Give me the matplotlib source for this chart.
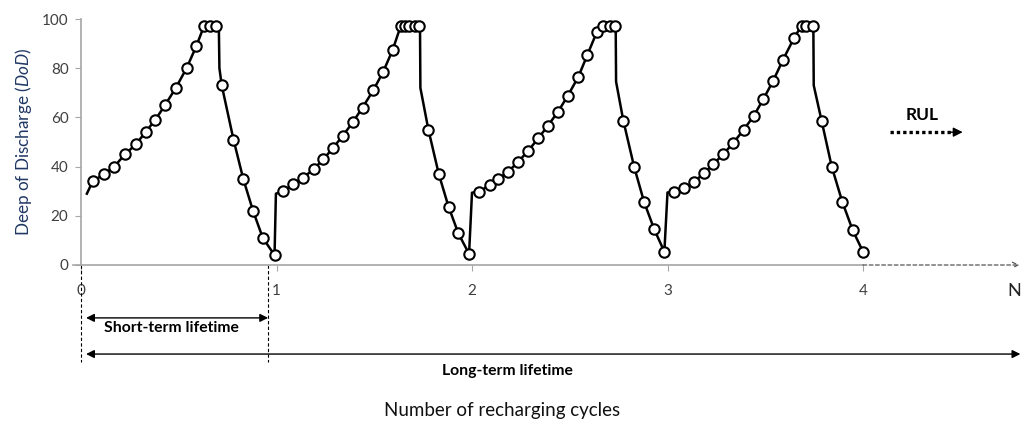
import numpy as np
from matplotlib import pyplot as plt

# marked points of each recharging cycle (cycle position, DoD %)
c1_x = [0.06, 0.12, 0.17, 0.225, 0.28, 0.33, 0.38, 0.43, 0.485, 0.54, 0.59, 0.63, 0.66, 0.69,
        0.72, 0.78, 0.83, 0.88, 0.93, 0.99]
c1_dod = [34, 37, 40, 45, 49, 54, 59, 65, 72, 80, 89, 97.3, 97.3, 97.3,
          73, 51, 35, 22, 11, 4]
c2_x = [1.035, 1.086, 1.137, 1.19, 1.24, 1.29, 1.34, 1.39, 1.44, 1.495, 1.546, 1.594,
        1.636, 1.657, 1.68, 1.708, 1.729, 1.777, 1.83, 1.88, 1.93, 1.985]
c2_dod = [30, 33, 35.5, 39, 43, 47.7, 52.6, 58, 64, 71, 78.6, 87.4,
          97.3, 97.3, 97.3, 97.3, 97.3, 55, 37, 23.7, 12.9, 4.5]
c3_x = [2.037, 2.09, 2.135, 2.186, 2.237, 2.288, 2.339, 2.387, 2.44, 2.49, 2.544, 2.59, 2.638,
        2.67, 2.705, 2.73, 2.774, 2.829, 2.88, 2.932, 2.984]
c3_dod = [29.8, 32.5, 35, 38, 42, 46.5, 51.5, 56.5, 62.3, 68.8, 76.5, 85.4, 94.6,
          97.3, 97.3, 97.3, 58.7, 40, 25.7, 14.5, 5.4]
c4_x = [3.033, 3.086, 3.137, 3.187, 3.234, 3.285, 3.337, 3.39, 3.442, 3.49, 3.54, 3.59, 3.648,
        3.686, 3.71, 3.742, 3.788, 3.84, 3.894, 3.947, 4.0]
c4_dod = [29.5, 31.2, 33.9, 37.3, 41, 45, 49.7, 55, 60.7, 67.4, 74.8, 83.3, 92.4,
          97.3, 97.3, 97.3, 58.7, 40, 25.7, 14.2, 5.4]
# unmarked corner points of the curve (start, drops after full charge, recharge jumps)
knee_x = [0.03, 0.705, 0.708, 0.997, 1.734, 1.736, 2.0, 2.735, 2.737, 3.0, 3.746, 3.748]
knee_dod = [29, 97.3, 80, 29, 97.3, 72, 29.4, 97.3, 74.5, 29.5, 97.3, 73]

xticks = [0, 1, 2, 3, 4]
yticks = [0, 20, 40, 60, 80, 100]

mark_x = np.array(c1_x + c2_x + c3_x + c4_x)
mark_dod = np.array(c1_dod + c2_dod + c3_dod + c4_dod)
line_x = np.concatenate([mark_x, knee_x])
line_dod = np.concatenate([mark_dod, knee_dod])
order = np.argsort(line_x)
line_x, line_dod = line_x[order], line_dod[order]

plt.rcParams['font.family'] = ['Lato', 'DejaVu Sans']
plt.rcParams['mathtext.fontset'] = 'custom'
plt.rcParams['mathtext.it'] = 'Lato:italic'
plt.rcParams['mathtext.rm'] = 'Lato'

fig = plt.figure(figsize=(10.23, 4.23), dpi=100)
ax = fig.add_axes([81 / 1023, (423 - 265) / 423, (1023 - 81) / 1023, 246 / 423])

ax.plot(line_x, line_dod, color='black', lw=1.8, zorder=2)
ax.plot(mark_x, mark_dod, 'o', ms=7.5, mfc='white', mec='black', mew=1.5, zorder=3)

ax.set_xlim(0, (1023 - 81) / 195.5)
ax.set_ylim(0, 100)
for s in ['top', 'right']:
    ax.spines[s].set_visible(False)
for s in ['left', 'bottom']:
    ax.spines[s].set_color('#a6a6a6')
    ax.spines[s].set_linewidth(1.2)
ax.spines['bottom'].set_bounds(-0.04, 4)
ax.set_xticks(xticks)
ax.set_yticks(yticks)
ax.tick_params(axis='both', colors='#a6a6a6', labelcolor='#404040', labelsize=11, length=4)
ax.tick_params(axis='x', pad=10)
ax.tick_params(axis='y', pad=5)

ax.set_ylabel('Deep of Discharge ($\\it{DoD}$)', color='#203864', fontsize=12.3, labelpad=6)
fig.text(502 / 1023, (423 - 410) / 423, 'Number of recharging cycles', ha='center', va='center',
         fontsize=13.5, color='#111111')

# x axis continuation
ax.annotate('', xy=(4.8, 0), xytext=(4.0, 0), annotation_clip=False,
            arrowprops=dict(arrowstyle='->', color='#555555', lw=0.9, linestyle=(0, (3, 2)),
                            shrinkA=0, shrinkB=0))
ax.text(4.81, -10.5, 'N', fontsize=13, ha='right', va='center', color='#222222', clip_on=False)

# RUL arrow
ax.text(4.30, 61, 'RUL', fontsize=12.5, fontweight='bold', ha='center', va='center')
ax.plot([4.14, 4.45], [54, 54], color='black', lw=2.4, ls=(0, (1, 0.9)),
        solid_capstyle='butt', dash_capstyle='butt')
ax.annotate('', xy=(4.51, 54), xytext=(4.44, 54),
            arrowprops=dict(arrowstyle='-|>', color='black', lw=1, mutation_scale=14,
                            shrinkA=0, shrinkB=0))

# lifetime spans
for xv in [0, 0.957]:
    ax.plot([xv, xv], [0, -39.5], color='black', lw=0.8, ls=(0, (3, 2)), clip_on=False)
ax.annotate('', xy=(0.957, -21.5), xytext=(0.026, -21.5), annotation_clip=False,
            arrowprops=dict(arrowstyle='<|-|>', color='black', lw=1, mutation_scale=12,
                            shrinkA=0, shrinkB=0))
ax.text(0.12, -25.8, 'Short-term lifetime', fontsize=11.3, fontweight='bold', ha='left', va='center')
ax.annotate('', xy=(4.805, -36.2), xytext=(0.026, -36.2), annotation_clip=False,
            arrowprops=dict(arrowstyle='<|-|>', color='black', lw=1, mutation_scale=12,
                            shrinkA=0, shrinkB=0))
ax.text(2.18, -43, 'Long-term lifetime', fontsize=11.3, fontweight='bold', ha='center', va='center')

plt.savefig('out.png', dpi=100)
